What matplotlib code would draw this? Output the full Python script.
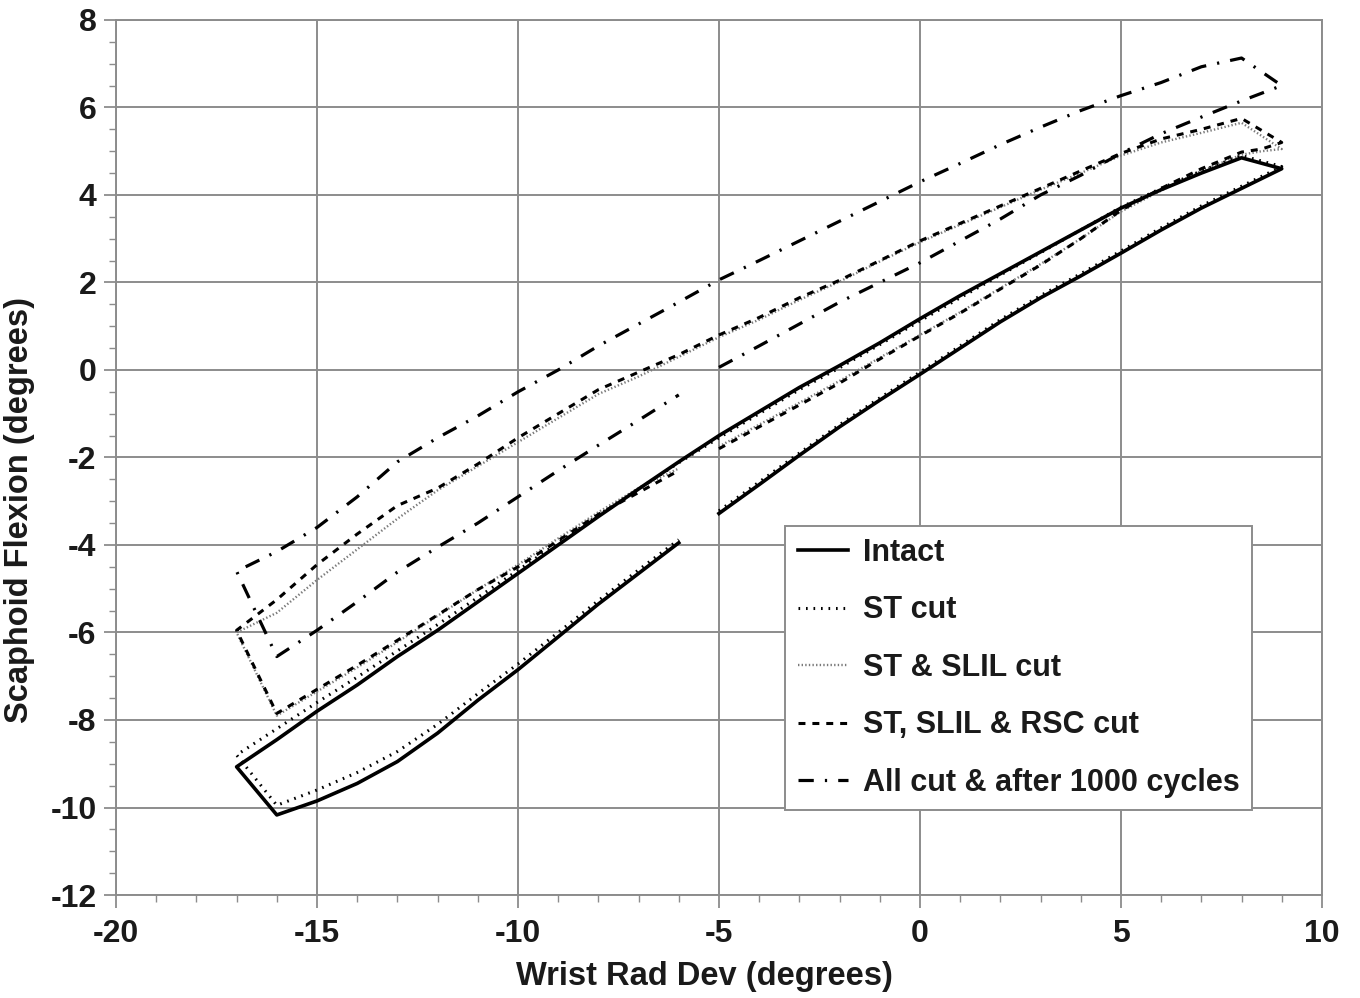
import matplotlib
matplotlib.use("Agg")
import matplotlib.pyplot as plt
from matplotlib.ticker import MultipleLocator

plt.rcParams['font.family'] = ['Liberation Sans', 'DejaVu Sans']
plt.rcParams['font.weight'] = 'bold'
plt.rcParams['lines.scale_dashes'] = False
plt.rcParams['axes.unicode_minus'] = False

# each curve is one loop: starts at -5 deg, goes to +9, back to -17, then up to -6
intact_x = [-5, -4, -3, -2, -1, 0, 1, 2, 3, 4, 5, 6, 7, 8, 9,
            8, 7, 6, 5, 4, 3, 2, 1, 0, -1, -2, -3, -4, -5, -6, -7, -8, -9, -10,
            -11, -12, -13, -14, -15, -16, -17,
            -16, -15, -14, -13, -12, -11, -10, -9, -8, -7, -6]
intact_y = [-3.28, -2.62, -1.95, -1.3, -0.69, -0.1, 0.5, 1.1, 1.65, 2.15, 2.67, 3.2, 3.7, 4.15, 4.6,
            4.85, 4.5, 4.12, 3.7, 3.2, 2.7, 2.2, 1.7, 1.17, 0.62, 0.1, -0.4, -0.95, -1.5, -2.1, -2.72, -3.35, -4.0, -4.65,
            -5.3, -5.95, -6.55, -7.2, -7.8, -8.45, -9.07,
            -10.17, -9.85, -9.45, -8.95, -8.3, -7.55, -6.85, -6.1, -5.35, -4.65, -3.95]

st_x = intact_x
st_y = [-3.22, -2.56, -1.9, -1.25, -0.64, -0.05, 0.55, 1.15, 1.7, 2.2, 2.72, 3.25, 3.75, 4.2, 4.65,
        4.9, 4.55, 4.15, 3.72, 3.2, 2.68, 2.17, 1.65, 1.12, 0.58, 0.05, -0.45, -1.0, -1.55, -2.12, -2.72, -3.32, -3.95, -4.58,
        -5.2, -5.82, -6.42, -7.02, -7.6, -8.2, -8.8,
        -9.95, -9.6, -9.2, -8.72, -8.1, -7.4, -6.72, -6.0, -5.27, -4.57, -3.88]

slil_x = [-5, -4, -3, -2, -1, 0, 1, 2, 3, 4, 5, 6, 7, 8, 8.5, 9,
          8, 7, 6, 5, 4, 3, 2, 1, 0, -1, -2, -3, -4, -5, -6, -7, -8, -9, -10,
          -11, -12, -13, -14, -15, -16, -17,
          -16, -15, -14, -13, -12, -11, -10, -9, -8, -7, -6]
slil_y = [-1.75, -1.25, -0.75, -0.25, 0.28, 0.8, 1.32, 1.87, 2.42, 3.0, 3.62, 4.1, 4.55, 4.92, 5.0, 5.05,
          5.65, 5.42, 5.2, 4.9, 4.5, 4.12, 3.72, 3.32, 2.92, 2.48, 2.02, 1.6, 1.15, 0.75, 0.3, -0.15, -0.55, -1.1, -1.65,
          -2.2, -2.75, -3.4, -4.1, -4.8, -5.55, -6.0,
          -7.9, -7.35, -6.8, -6.22, -5.62, -5.02, -4.45, -3.85, -3.25, -2.7, -2.25]

rsc_x = slil_x
rsc_y = [-1.8, -1.3, -0.8, -0.3, 0.25, 0.78, 1.3, 1.85, 2.4, 3.0, 3.65, 4.15, 4.6, 4.98, 5.05, 5.2,
         5.75, 5.5, 5.28, 4.95, 4.55, 4.15, 3.75, 3.35, 2.95, 2.5, 2.05, 1.65, 1.2, 0.8, 0.35, -0.05, -0.45, -1.0, -1.55,
         -2.15, -2.7, -3.1, -3.75, -4.45, -5.25, -5.95,
         -7.85, -7.3, -6.75, -6.18, -5.6, -5.02, -4.5, -3.9, -3.3, -2.8, -2.3]

all_x = [-5, -4, -3, -2, -1, 0, 1, 2, 3, 4, 5, 6, 7, 8, 9,
         8, 7, 6, 5, 4, 3, 2, 1, 0, -1, -2, -3, -4, -5, -6, -7, -8, -9, -10,
         -11, -12, -13, -14, -15, -16, -17,
         -16, -15, -14, -13, -12, -11, -10, -9, -8, -7, -6]
all_y = [0.06, 0.55, 1.05, 1.55, 2.0, 2.45, 2.95, 3.45, 4.0, 4.45, 4.95, 5.4, 5.78, 6.15, 6.5,
         7.13, 6.93, 6.57, 6.27, 5.93, 5.55, 5.15, 4.72, 4.3, 3.85, 3.4, 2.95, 2.5, 2.06, 1.55, 1.05, 0.55, 0.0, -0.5,
         -1.05, -1.55, -2.1, -2.9, -3.6, -4.15, -4.6,
         -6.55, -5.95, -5.3, -4.62, -4.05, -3.5, -2.9, -2.3, -1.72, -1.15, -0.57]

labels = ["Intact", "ST cut", "ST & SLIL cut", "ST, SLIL & RSC cut", "All cut & after 1000 cycles"]

fig = plt.figure(figsize=(13.6, 9.98), dpi=100)
ax = fig.add_axes([0.0853, 0.1032, 0.8867, 0.8768])

ax.plot(intact_x, intact_y, color='black', lw=2.6, ls='-', label=labels[0], zorder=5)
ax.plot(st_x, st_y, color='black', lw=2.2, ls=(0, (1.2, 4.2)), label=labels[1], zorder=4)
ax.plot(slil_x, slil_y, color='#7a7a7a', lw=1.7, ls=(0, (1.0, 1.6)), label=labels[2], zorder=3)
ax.plot(rsc_x, rsc_y, color='black', lw=2.2, ls=(0, (5, 5)), label=labels[3], zorder=4)
ax.plot(all_x, all_y, color='black', lw=2.3, ls=(0, (11, 8, 1.6, 8)), label=labels[4], zorder=4)

ax.set_xlim(-20, 10)
ax.set_ylim(-12, 8)
ax.xaxis.set_major_locator(MultipleLocator(5))
ax.xaxis.set_minor_locator(MultipleLocator(1))
ax.yaxis.set_major_locator(MultipleLocator(2))
ax.yaxis.set_minor_locator(MultipleLocator(0.5))
ax.grid(True, which='major', color='#8c8c8c', lw=1.4)
ax.set_axisbelow(True)
for s in ax.spines.values():
    s.set_color('#8c8c8c')
    s.set_linewidth(1.4)
ax.tick_params(which='major', direction='out', length=9, width=1.3, color='#8c8c8c',
               labelsize=23, labelcolor='#1a1a1a')
ax.tick_params(axis='x', which='major', pad=8)
ax.tick_params(axis='y', which='major', pad=5)
ax.tick_params(which='minor', direction='out', length=5, width=1.0, color='#8c8c8c')

ax.set_xlabel("Wrist Rad Dev (degrees)", fontsize=23.5, fontweight='bold', color='#1a1a1a')
ax.set_ylabel("Scaphoid Flexion (degrees)", fontsize=23.5, fontweight='bold', color='#1a1a1a')
ax.xaxis.set_label_coords(0.488, -0.075)
ax.yaxis.set_label_coords(-0.067, 0.44)

leg = ax.legend(loc='lower left', bbox_to_anchor=(0.555, 0.097), fontsize=22,
                handlelength=1.65, handletextpad=0.5, labelspacing=0.9, borderpad=0.4,
                borderaxespad=0, fancybox=False, framealpha=1)
leg.get_frame().set_edgecolor('#8c8c8c')
leg.get_frame().set_linewidth(1.4)
for t in leg.get_texts():
    t.set_color('#1a1a1a')

fig.savefig("out.png", dpi=100)
